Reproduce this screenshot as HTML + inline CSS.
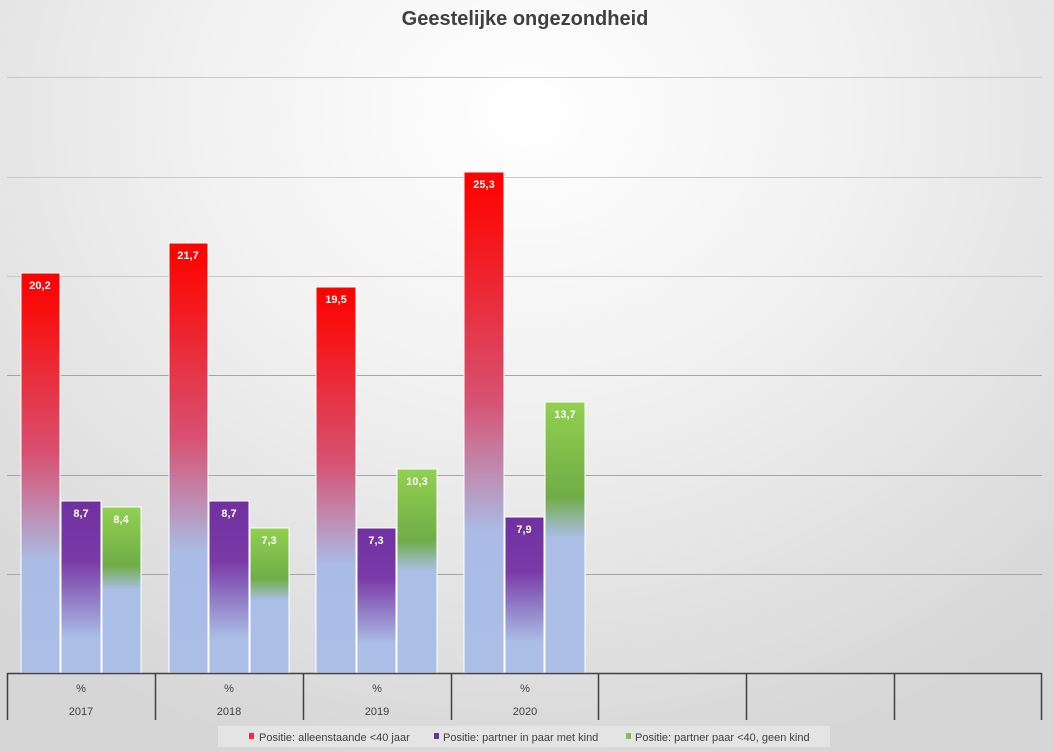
<!DOCTYPE html>
<html><head><meta charset="utf-8"><style>
body{margin:0;width:1054px;height:752px;overflow:hidden;font-family:"Liberation Sans",sans-serif;
background:radial-gradient(ellipse 75% 90% at 50% 15%,#ffffff 0%,#f2f2f2 40%,#d6d6d6 100%);}
</style></head><body>
<svg width="1054" height="752" xmlns="http://www.w3.org/2000/svg" style="position:absolute;left:0;top:0">
<defs>
<linearGradient id="gr" x1="0" y1="0" x2="0" y2="1"><stop offset="0" stop-color="#ff0000"/><stop offset="0.1" stop-color="#f81010"/><stop offset="0.45" stop-color="#d85070"/><stop offset="0.72" stop-color="#aabce6"/><stop offset="1" stop-color="#aabee6"/></linearGradient>
<linearGradient id="gp" x1="0" y1="0" x2="0" y2="1"><stop offset="0" stop-color="#7030a0"/><stop offset="0.35" stop-color="#7a3aa8"/><stop offset="0.8" stop-color="#aabee6"/><stop offset="1" stop-color="#aabee6"/></linearGradient>
<linearGradient id="gg" x1="0" y1="0" x2="0" y2="1"><stop offset="0" stop-color="#92d050"/><stop offset="0.35" stop-color="#70ad47"/><stop offset="0.5" stop-color="#aabee6"/><stop offset="1" stop-color="#aabee6"/></linearGradient>
</defs>
<text x="525" y="25" text-anchor="middle" font-size="20" font-weight="bold" fill="#404040">Geestelijke ongezondheid</text>
<g stroke="#c8c8c8" stroke-width="1">
<line x1="7" y1="77.5" x2="1042" y2="77.5"/><line x1="7" y1="177.5" x2="1042" y2="177.5"/>
<line x1="7" y1="276.5" x2="1042" y2="276.5"/></g>
<g stroke="#a6a6a6" stroke-width="1">
<line x1="7" y1="375.5" x2="1042" y2="375.5"/><line x1="7" y1="475.5" x2="1042" y2="475.5"/>
<line x1="7" y1="574.5" x2="1042" y2="574.5"/></g>
<g stroke="#fff" stroke-width="1">
<rect x="21" y="273" width="39" height="400" fill="url(#gr)"/>
<rect x="61" y="501" width="40" height="172" fill="url(#gp)"/>
<rect x="102" y="507" width="39" height="166" fill="url(#gg)"/>
<rect x="169" y="243" width="39" height="430" fill="url(#gr)"/>
<rect x="209" y="501" width="40" height="172" fill="url(#gp)"/>
<rect x="250" y="528" width="39" height="145" fill="url(#gg)"/>
<rect x="316" y="287" width="40" height="386" fill="url(#gr)"/>
<rect x="357" y="528" width="39" height="145" fill="url(#gp)"/>
<rect x="397" y="469" width="40" height="204" fill="url(#gg)"/>
<rect x="464" y="172" width="40" height="501" fill="url(#gr)"/>
<rect x="505" y="517" width="39" height="156" fill="url(#gp)"/>
<rect x="545" y="402" width="40" height="271" fill="url(#gg)"/>
</g>
<g font-size="11" font-weight="bold" fill="#fff" text-anchor="middle">
<text x="40" y="289">20,2</text><text x="81" y="517">8,7</text><text x="121" y="523">8,4</text>
<text x="188" y="259">21,7</text><text x="229" y="517">8,7</text><text x="269" y="544">7,3</text>
<text x="336" y="303">19,5</text><text x="376" y="544">7,3</text><text x="417" y="485">10,3</text>
<text x="484" y="188">25,3</text><text x="524" y="533">7,9</text><text x="565" y="418">13,7</text>
</g>
<g stroke="#404040" stroke-width="1.5">
<line x1="7" y1="673.5" x2="1042" y2="673.5"/>
<line x1="7.5" y1="673" x2="7.5" y2="720"/><line x1="155.5" y1="673" x2="155.5" y2="720"/>
<line x1="303.5" y1="673" x2="303.5" y2="720"/><line x1="451.5" y1="673" x2="451.5" y2="720"/>
<line x1="598.5" y1="673" x2="598.5" y2="720"/><line x1="746.5" y1="673" x2="746.5" y2="720"/>
<line x1="894.5" y1="673" x2="894.5" y2="720"/><line x1="1041.5" y1="673" x2="1041.5" y2="720"/>
</g>
<g font-size="11" fill="#404040" text-anchor="middle">
<text x="81" y="692">%</text><text x="81" y="715">2017</text>
<text x="229" y="692">%</text><text x="229" y="715">2018</text>
<text x="377" y="692">%</text><text x="377" y="715">2019</text>
<text x="525" y="692">%</text><text x="525" y="715">2020</text>
</g>
<rect x="218" y="726" width="612" height="21" fill="#e4e4e4"/>
<rect x="249" y="733" width="5" height="6" fill="#f03040"/>
<rect x="434" y="733" width="5" height="6" fill="#7030a0"/>
<rect x="626" y="733" width="5" height="6" fill="#80c050"/>
<g font-size="11" fill="#404040">
<text x="259" y="741">Positie: alleenstaande &lt;40 jaar</text>
<text x="443" y="741">Positie: partner in paar met kind</text>
<text x="635" y="741">Positie: partner paar &lt;40, geen kind</text>
</g>
</svg>
</body></html>
